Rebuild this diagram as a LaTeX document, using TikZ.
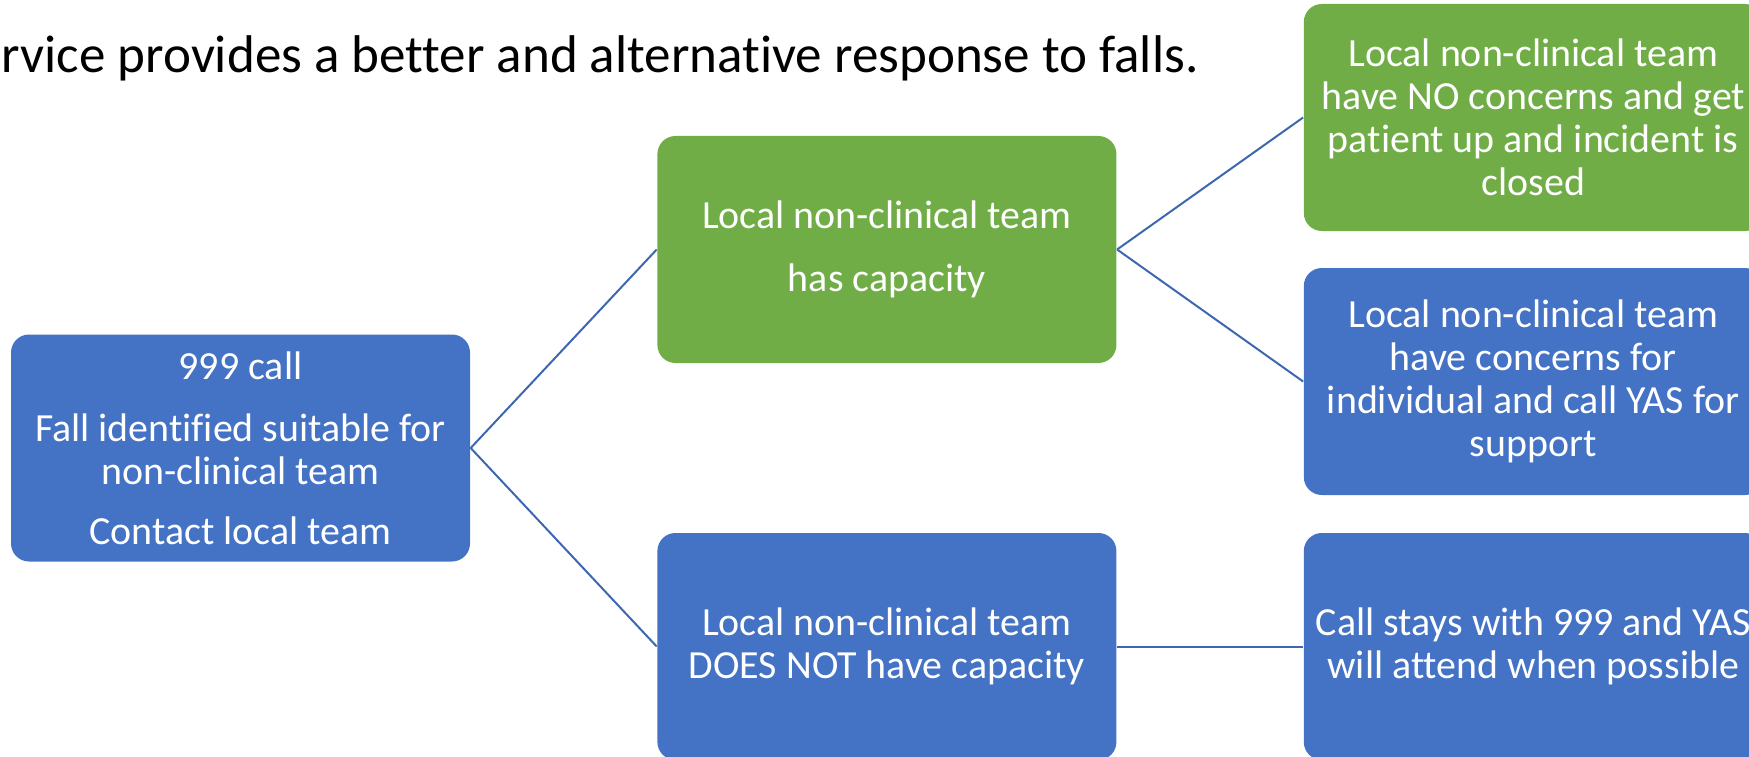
\documentclass[tikz,border=0pt]{standalone}
\usepackage{fontspec}
\setmainfont{Carlito}[Ligatures=NoCommon]
\usetikzlibrary{positioning}
\definecolor{boxblue}{HTML}{4472C4}
\definecolor{boxgreen}{HTML}{70AD47}
\definecolor{linkblue}{HTML}{3E67B1}
\def\myhdist{18.6mm}
\def\myvdist{19.85mm}
\tikzset{
box font/.style={font=\fontsize{11.35}{12.2}\selectfont},
my box/.style={rectangle,rounded corners=1.8mm,minimum width=45.9mm,
  minimum height=22.7mm,inner sep=0pt,align=center,text=white,box font},
blue box/.style={my box,fill=boxblue},
green box/.style={my box,fill=boxgreen},
link/.style={draw=linkblue,line width=0.2mm}
}
\begin{document}
\begin{tikzpicture}[x=0.1mm,y=-0.1mm]
\clip (0,0) rectangle (1749,756);
% heading (cut off at the left)
\node[anchor=base west,inner sep=0pt,font=\fontsize{15.1}{18}\selectfont] (heading) at (1,73)
  {rvice provides a better and alternative response to falls.};
% boxes
\node[blue box] (call) at (240.5,448)
  {999 call\\[1.9mm] Fall identified suitable for\\ non-clinical team\\[1.7mm] Contact local team};
\node[green box] (capacity) [right=\myhdist of call,yshift=\myvdist]
  {Local non-clinical team\\[2mm] has capacity};
\node[blue box] (nocapacity) [right=\myhdist of call,yshift=-\myvdist]
  {Local non-clinical team\\ DOES NOT have capacity};
\node[green box] (closed) [right=\myhdist of capacity,yshift=13.2mm]
  {Local non-clinical team\\ have NO concerns and get\\ patient up and incident is\\ closed};
\node[blue box] (concerns) [right=\myhdist of capacity,yshift=-13.2mm]
  {Local non-clinical team\\ have concerns for\\ individual and call YAS for\\ support};
\node[blue box] (attend) [right=\myhdist of nocapacity]
  {Call stays with 999 and YAS\\ will attend when possible};
% connectors
\path[link] (call.east) edge (capacity.west)
            (call.east) edge (nocapacity.west)
            (capacity.east) edge (closed.west)
            (capacity.east) edge (concerns.west)
            (nocapacity.east) edge (attend.west);
\end{tikzpicture}
\end{document}
